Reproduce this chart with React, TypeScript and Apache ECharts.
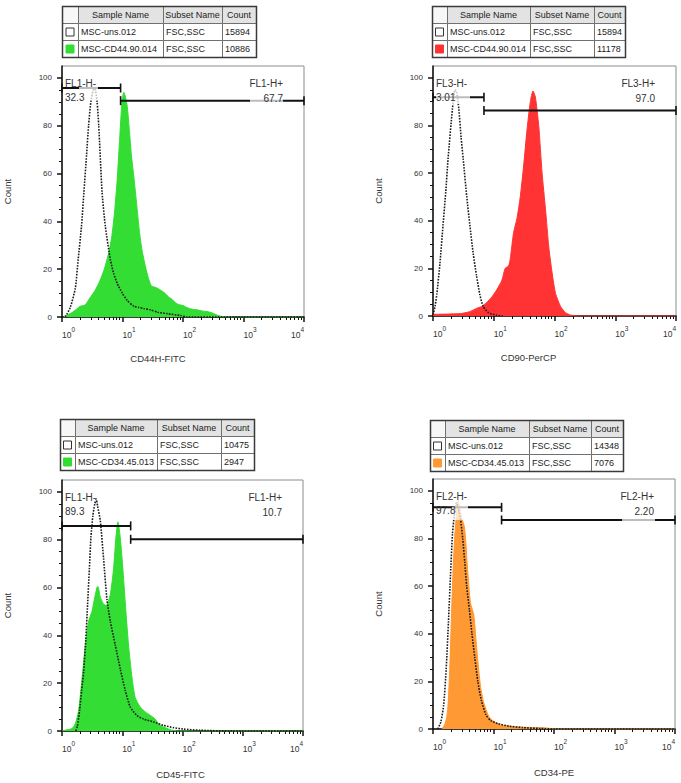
import React, { useEffect, useRef } from 'react';
import * as echarts from 'echarts';

const FONT = '"Liberation Sans", Arial, Helvetica, sans-serif';

// ---------- data ----------
const decadeTicks = [1, 10, 100, 1000, 10000];
const decadeMinorTicks = [
  2, 3, 4, 5, 6, 7, 8, 9,
  20, 30, 40, 50, 60, 70, 80, 90,
  200, 300, 400, 500, 600, 700, 800, 900,
  2000, 3000, 4000, 5000, 6000, 7000, 8000, 9000,
];
const countTicks = [0, 20, 40, 60, 80, 100];
const countMinorTicks = [5, 10, 15, 25, 30, 35, 45, 50, 55, 65, 70, 75, 85, 90, 95];

const markerNames = ['CD44H-FITC', 'CD90-PerCP', 'CD45-FITC', 'CD34-PE'];
const fillColors = ['#33dd33', '#ff3333', '#33dd33', '#ff9933'];

const tableHeaders = ['Sample Name', 'Subset Name', 'Count'];
const sampleNames = [
  ['MSC-uns.012', 'MSC-CD44.90.014'],
  ['MSC-uns.012', 'MSC-CD44.90.014'],
  ['MSC-uns.012', 'MSC-CD34.45.013'],
  ['MSC-uns.012', 'MSC-CD34.45.013'],
];
const subsetNames = ['FSC,SSC', 'FSC,SSC'];
const eventCounts = [
  ['15894', '10886'],
  ['15894', '11178'],
  ['10475', '2947'],
  ['14348', '7076'],
];

const gateNames = [
  ['FL1-H-', 'FL1-H+'],
  ['FL3-H-', 'FL3-H+'],
  ['FL1-H-', 'FL1-H+'],
  ['FL2-H-', 'FL2-H+'],
];
const gatePercents = [
  ['32.3', '67.7'],
  ['3.01', '97.0'],
  ['89.3', '10.7'],
  ['97.8', '2.20'],
];
const gateSplits = [9.3, 6.9, 13.8, 13.6];
const gateLeftLevels = [95.8, 91.9, 85.8, 93.1];
const gateRightLevels = [90.5, 86.3, 80.2, 87.8];

const stainedCD44 = [
  [1.0, 0], [1.15, 0.5], [1.5, 2], [2.0, 4.5], [2.4, 5], [2.9, 8], [3.5, 11], [4.2, 15],
  [5.0, 20], [5.8, 26], [6.6, 33], [7.4, 44], [8.2, 58], [9.0, 75], [9.8, 90], [10.5, 94],
  [11.2, 92], [12, 88], [13, 78], [14, 68], [15.5, 58], [17, 48], [19, 36], [21, 28],
  [24, 21], [27, 16], [30, 13], [34, 12.5], [38, 12], [44, 11], [50, 10], [57, 8.5],
  [65, 7.5], [75, 6], [85, 5.2], [100, 4.8], [115, 4], [140, 3.3], [170, 3], [210, 2.5],
  [260, 2.2], [320, 1.5], [380, 0.6], [450, 0.2], [600, 0], [10000, 0],
];
const controlCD44 = [
  [1.0, 0], [1.14, 0.3], [1.37, 4], [1.66, 12], [1.85, 24], [2.1, 38], [2.3, 52], [2.55, 68],
  [2.75, 80], [3.0, 90], [3.3, 95], [3.5, 95.5], [3.8, 90], [4.05, 80], [4.6, 52], [5.2, 38],
  [6.3, 24], [7.2, 18], [8.2, 14], [9.9, 10], [11.9, 7], [15.4, 4.5], [18.6, 4], [22.6, 3.5],
  [29, 3], [38, 2], [55, 1.4], [91, 0.6], [118, 0], [10000, 0],
];
const stainedCD90 = [
  [1, 0.7], [1.66, 0.8], [2.8, 1], [4.0, 1.8], [5.2, 3.2], [6.3, 4], [7.6, 5.6], [9.3, 8],
  [11.2, 11], [13.6, 15], [15.4, 20], [17.5, 21], [18.7, 24], [21.2, 35], [24.1, 41],
  [27.3, 50], [31, 63], [35.2, 78], [40, 90], [44.3, 94.5], [48.4, 92], [55, 80], [62.5, 60],
  [71, 45], [80.5, 29], [91.5, 18], [104, 9.5], [126, 4], [152, 1.4], [184, 0.4], [238, 0],
  [10000, 0],
];
const controlCD90 = [
  [1, 0.5], [1.08, 4], [1.16, 9.5], [1.3, 22], [1.46, 38], [1.62, 52], [1.77, 66], [2.09, 87],
  [2.3, 95], [2.45, 94], [2.66, 87], [2.9, 75], [3.14, 66], [3.6, 50], [4.05, 38], [4.6, 26],
  [5.2, 17], [5.9, 9], [6.7, 4], [8.2, 1.4], [11.2, 0.3], [14, 0],
];
const stainedCD45 = [
  [1, 0], [1.21, 0.5], [1.46, 1], [1.66, 3], [1.89, 8.7], [2.15, 22], [2.44, 36], [2.77, 46],
  [3.14, 50], [3.44, 55], [3.8, 60], [3.95, 60.5], [4.32, 56], [4.91, 53], [5.43, 52.5],
  [6.33, 57], [7.18, 68], [7.85, 81], [8.47, 87.5], [9.26, 81], [10.3, 67], [11.5, 50],
  [12.7, 36], [14.5, 22.5], [16.4, 14], [19.9, 10], [24.1, 8], [29.1, 6.6], [35.2, 5],
  [40, 3], [48.4, 1.7], [62.5, 0.6], [80.5, 0], [10000, 0],
];
const controlCD45 = [
  [1.7, 0], [1.8, 2], [1.96, 8.6], [2.12, 17], [2.29, 25], [2.48, 38], [2.66, 53], [2.85, 68],
  [3.02, 81], [3.25, 90], [3.5, 95], [3.71, 97], [3.9, 94], [4.32, 88], [4.9, 72], [5.57, 55],
  [6.33, 46], [7.65, 36], [9.26, 26], [11.2, 17], [13.6, 10], [17.5, 6.5], [22.6, 5], [33, 3.8],
  [48, 2.4], [71, 1.4], [104, 0.8], [196, 0.3], [700, 0], [10000, 0],
];
const stainedCD34 = [
  [1.41, 0], [1.6, 2.5], [1.75, 8], [1.89, 25], [2.01, 46], [2.15, 67], [2.29, 81], [2.44, 90],
  [2.6, 96], [2.8, 92], [3.03, 88], [3.3, 85], [3.5, 78], [3.66, 70], [4.16, 53], [4.72, 48],
  [5.36, 32], [6.09, 18], [6.92, 11], [8.37, 5.3], [10.1, 3.2], [13.1, 1.8], [19.1, 1.1],
  [36, 0.7], [78, 0.4], [100, 0], [10000, 0],
];
const controlCD34 = [
  [1.2, 0], [1.35, 3], [1.5, 10], [1.65, 25], [1.8, 45], [1.95, 65], [2.1, 82], [2.3, 92],
  [2.45, 95], [2.6, 93], [2.85, 88], [3.1, 80], [3.35, 70], [3.6, 60], [4.0, 50], [4.4, 40],
  [4.9, 30], [5.5, 20], [6.3, 12], [7.5, 6], [9.0, 3.5], [12, 2.2], [18, 1.2], [30, 0.6],
  [60, 0.2], [100, 0], [10000, 0],
];

const stainedSeries = [stainedCD44, stainedCD90, stainedCD45, stainedCD34];
const controlSeries = [controlCD44, controlCD90, controlCD45, controlCD34];

// ---------- layout ----------
const gridBoxes = [
  { left: 62, top: 66, width: 242, height: 251 },
  { left: 433, top: 66, width: 243, height: 250 },
  { left: 62, top: 480, width: 241, height: 251 },
  { left: 433, top: 479, width: 242, height: 250 },
];
const namePadRight = [50, 52, 4, 0];
const tableBoxes = [
  { cols: [62, 78, 163, 222, 256], top: 6 },
  { cols: [432, 447, 530, 594, 625], top: 6 },
  { cols: [60, 75, 157, 221, 254], top: 419 },
  { cols: [430, 445, 529, 591, 623], top: 420 },
];
const ROW_H = 17;
const veilBoxes = [
  [{ x: 79, y: 84, w: 19, h: 16 }, { x: 250, y: 96, w: 33, h: 9 }],
  [{ x: 436, y: 88, w: 34, h: 16 }],
  [],
  [{ x: 452, y: 489, w: 16, h: 31 }, { x: 622, y: 515, w: 33, h: 9 }],
];

function buildOption() {
  const grid: any[] = [];
  const xAxis: any[] = [];
  const yAxis: any[] = [];
  const series: any[] = [];
  const graphic: any[] = [];

  gridBoxes.forEach((g, p) => {
    grid.push({ ...g, show: true, borderColor: '#8c8c8c', borderWidth: 1, containLabel: false });
    xAxis.push({
      gridIndex: p, type: 'log', logBase: 10, min: 1, max: 10000, position: 'bottom',
      name: markerNames[p], nameLocation: 'middle', nameGap: p < 2 ? 36 : 38,
      nameTextStyle: { fontSize: 9.5, color: '#333', fontFamily: FONT, padding: [0, namePadRight[p], 0, 0] },
      axisLine: { show: true, onZero: false, lineStyle: { color: '#111', width: 1.5 } },
      axisTick: { show: true, customValues: decadeTicks, length: 5, lineStyle: { color: '#111', width: 1.5 } },
      axisLabel: {
        customValues: decadeTicks,
        margin: 9,
        align: 'left',
        alignMaxLabel: 'right',
        formatter: (v: number) => `{b|10}{s|${Math.round(Math.log10(v))}}`,
        rich: {
          b: { fontSize: 8.5, color: '#333', fontFamily: FONT, verticalAlign: 'bottom', lineHeight: 13 },
          s: { fontSize: 6.5, color: '#333', fontFamily: FONT, verticalAlign: 'top', lineHeight: 13 },
        },
      },
      splitLine: { show: false },
      minorTick: { show: false },
    });
    xAxis.push({
      gridIndex: p, type: 'log', logBase: 10, min: 1, max: 10000, position: 'bottom',
      axisLine: { show: false },
      axisTick: { show: true, customValues: decadeMinorTicks, length: 3, lineStyle: { color: '#111', width: 1 } },
      axisLabel: { show: false },
      splitLine: { show: false },
    });
    yAxis.push({
      gridIndex: p, type: 'value', min: 0, max: 105, position: 'left',
      name: 'Count', nameLocation: 'middle', nameGap: 50, nameRotate: 90,
      nameTextStyle: { fontSize: 9.5, color: '#333', fontFamily: FONT },
      axisLine: { show: true, onZero: false, lineStyle: { color: '#111', width: 1.5 } },
      axisTick: { show: true, customValues: countTicks, length: 5, lineStyle: { color: '#111', width: 1.5 } },
      axisLabel: { customValues: countTicks, margin: 10, fontSize: 8, color: '#333', fontFamily: FONT },
      splitLine: { show: false },
    });
    yAxis.push({
      gridIndex: p, type: 'value', min: 0, max: 105, position: 'left',
      axisLine: { show: false },
      axisTick: { show: true, customValues: countMinorTicks, length: 3, lineStyle: { color: '#111', width: 1 } },
      axisLabel: { show: false },
      splitLine: { show: false },
    });

    const xi = p * 2;
    const yi = p * 2;
    series.push({
      type: 'line', xAxisIndex: xi, yAxisIndex: yi, data: stainedSeries[p], showSymbol: false,
      smooth: 0.2, silent: true, z: 2,
      lineStyle: { color: fillColors[p], width: 1 },
      areaStyle: { color: fillColors[p], opacity: 1 },
    });
    series.push({
      type: 'line', xAxisIndex: xi, yAxisIndex: yi, data: controlSeries[p], showSymbol: false,
      smooth: 0.2, silent: true, z: 3,
      lineStyle: { color: '#1a1a1a', width: 1.6, type: [1.6, 1.3] },
    });
    const gates = [
      [[1, gateLeftLevels[p]], [gateSplits[p], gateLeftLevels[p]]],
      [[gateSplits[p], gateRightLevels[p]], [10000, gateRightLevels[p]]],
    ];
    gates.forEach((d) => {
      series.push({
        type: 'line', xAxisIndex: xi, yAxisIndex: yi, data: d, silent: true, z: 4,
        symbol: 'rect', symbolSize: [1.6, 9], showSymbol: true, clip: false,
        itemStyle: { color: '#111' },
        lineStyle: { color: '#111', width: 2 },
      });
    });

    // translucent label veils
    veilBoxes[p].forEach((b) => {
      graphic.push({
        type: 'rect', z: 50, silent: true,
        shape: { x: b.x, y: b.y, width: b.w, height: b.h },
        style: { fill: 'rgba(255,255,255,0.72)' },
      });
    });

    // gate labels
    const lx = g.left + 3;
    const rx = g.left + g.width - 21;
    const txt = (text: string, x: number, y: number, align: string) => ({
      type: 'text', z: 60, silent: true, x, y,
      style: {
        text, fill: '#333', font: `10px ${FONT}`,
        align, textAlign: align, verticalAlign: 'middle', textVerticalAlign: 'middle',
      },
    });
    graphic.push(txt(gateNames[p][0], lx, g.top + 17, 'left'));
    graphic.push(txt(gatePercents[p][0], lx, g.top + 31, 'left'));
    graphic.push(txt(gateNames[p][1], rx, g.top + 17, 'right'));
    graphic.push(txt(gatePercents[p][1], rx, g.top + 32, 'right'));

    // legend table
    const t = tableBoxes[p];
    const c = t.cols;
    const rows = [
      ['', ...tableHeaders],
      ['', sampleNames[p][0], subsetNames[0], eventCounts[p][0]],
      ['', sampleNames[p][1], subsetNames[1], eventCounts[p][1]],
    ];
    rows.forEach((row, r) => {
      const y = t.top + r * ROW_H;
      for (let k = 0; k < 4; k++) {
        const header = r === 0;
        graphic.push({
          type: 'rect', z: 20, silent: true,
          shape: { x: c[k] + 0.5, y: y + 0.5, width: c[k + 1] - c[k], height: ROW_H },
          style: { fill: header ? (k === 0 ? '#f7f7f7' : '#e3e3e3') : '#ffffff', stroke: '#707070', lineWidth: 1 },
        });
        if (k > 0) {
          graphic.push({
            type: 'text', z: 21, silent: true,
            x: header ? (c[k] + c[k + 1]) / 2 : c[k] + 3,
            y: y + ROW_H / 2 + 0.5,
            style: {
              text: row[k], fill: '#222', font: `9px ${FONT}`,
              align: header ? 'center' : 'left', textAlign: header ? 'center' : 'left',
              verticalAlign: 'middle', textVerticalAlign: 'middle',
            },
          });
        }
      }
      if (r > 0) {
        const cx = (c[0] + c[1]) / 2;
        graphic.push({
          type: 'rect', z: 22, silent: true,
          shape: { x: cx - 4, y: y + ROW_H / 2 - 3.5, width: 8, height: 8 },
          style: { fill: r === 1 ? '#ffffff' : fillColors[p], stroke: r === 1 ? '#333' : fillColors[p], lineWidth: 1 },
        });
      }
    });
    graphic.push({
      type: 'rect', z: 23, silent: true,
      shape: { x: c[0] + 0.5, y: t.top + 0.5, width: c[4] - c[0], height: ROW_H * 3 },
      style: { fill: 'none', stroke: '#3a3a3a', lineWidth: 1.5 },
    });
  });

  return {
    animation: false,
    backgroundColor: '#ffffff',
    textStyle: { fontFamily: FONT },
    grid, xAxis, yAxis, series, graphic,
  };
}

export default function App() {
  const ref = useRef<HTMLDivElement>(null);
  useEffect(() => {
    const chart = echarts.init(ref.current as HTMLDivElement, null, { renderer: 'svg' });
    chart.setOption(buildOption() as any);
    return () => chart.dispose();
  }, []);
  return (
    <div
      ref={ref}
      style={{ position: 'absolute', left: 0, top: 0, width: 681, height: 783, background: '#fff' }}
    />
  );
}
